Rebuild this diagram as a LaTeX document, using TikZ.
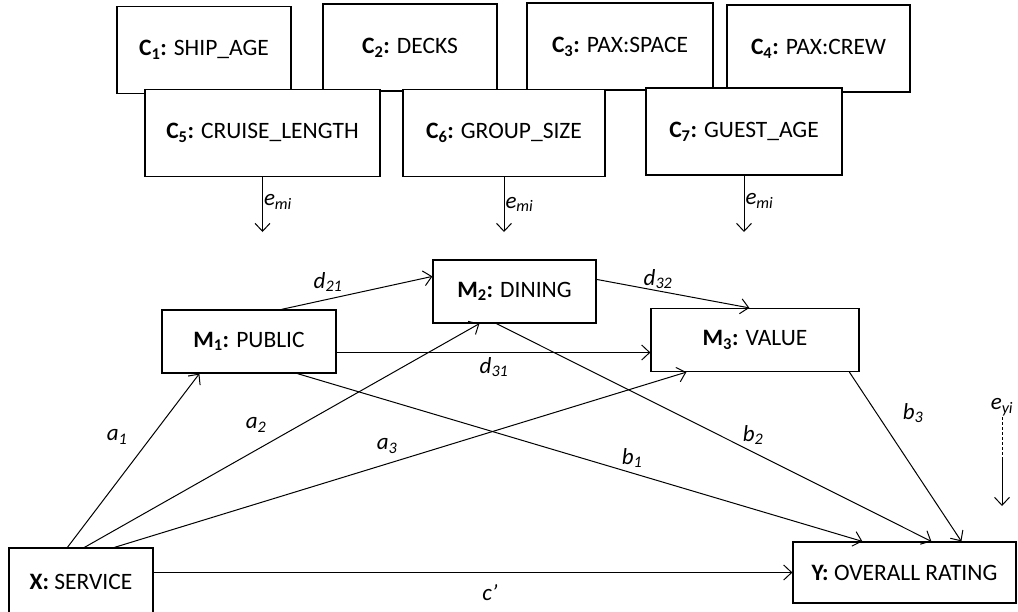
\documentclass[tikz,border=0pt]{standalone}
\usepackage{fontspec}
\setmainfont{Carlito}
\usetikzlibrary{arrows.meta}

\begin{document}
\begin{tikzpicture}[x=1pt, y=-1pt, line width=1pt,
  font=\fontsize{23.5}{27}\selectfont,
  bx/.style={draw, fill=white, inner sep=0pt, line width=1.2pt},
  cv/.style={bx, minimum height=87pt},
  mv/.style={bx, minimum height=63pt},
  arr/.style={-{Straight Barb[length=8pt,width=15pt]}},
  lbl/.style={font=\fontsize{23}{27}\selectfont\itshape, inner sep=1pt},
]
  \useasboundingbox (0,0) rectangle (1018,611);

  % controls, back row first so the front row covers it
  \node[cv, minimum width=174pt] (c1) at (204,50)    {\textbf{C\textsubscript{1}:} SHIP\_AGE};
  \node[cv, minimum width=174pt] (c2) at (410,47.5)  {\textbf{C\textsubscript{2}:} DECKS};
  \node[cv, minimum width=186pt] (c3) at (620,46.5)  {\textbf{C\textsubscript{3}:} PAX:SPACE};
  \node[cv, minimum width=183pt] (c4) at (818.5,48.5){\textbf{C\textsubscript{4}:} PAX:CREW};
  \node[cv, minimum width=235pt] (c5) at (262.5,133) {\textbf{C\textsubscript{5}:} CRUISE\_LENGTH};
  \node[cv, minimum width=202pt] (c6) at (504,133)   {\textbf{C\textsubscript{6}:} GROUP\_SIZE};
  \node[cv, minimum width=196pt] (c7) at (744,131.5) {\textbf{C\textsubscript{7}:} GUEST\_AGE};

  \coordinate (e5) at (262.5,232);
  \coordinate (e6) at (504,232);
  \coordinate (e7) at (744,232);
  \draw[arr] (c5.south) -- node[lbl, right, pos=0.45] {e\textsubscript{mi}} (e5);
  \draw[arr] (c6.south) -- node[lbl, right, pos=0.5] {e\textsubscript{mi}} (e6);
  \draw[arr] (c7.south) -- node[lbl, right, pos=0.45] {e\textsubscript{mi}} (e7);

  % mediators
  \node[mv, minimum width=174pt] (m1) at (249,341.5) {\textbf{M\textsubscript{1}:} PUBLIC};
  \node[mv, minimum width=163pt] (m2) at (514.5,291.5) {\textbf{M\textsubscript{2}:} DINING};
  \node[mv, minimum width=208pt] (m3) at (755,340)   {\textbf{M\textsubscript{3}:} VALUE};

  \node[bx, minimum width=144pt, minimum height=68pt] (x) at (81,582)  {\textbf{X:} SERVICE};
  \node[bx, minimum width=223pt, minimum height=61pt] (y) at (904.5,572.5) {\textbf{Y:} OVERALL RATING};

  % paths
  \draw[arr] ([xshift=59pt]x.north west)  -- ([xshift=38pt]m1.south west);
  \draw[arr] ([xshift=76pt]x.north west)  -- ([xshift=47pt]m2.south west);
  \draw[arr] ([xshift=106pt]x.north west) -- ([xshift=36pt]m3.south west);
  \draw[arr] ([xshift=120pt]m1.north west) -- ([yshift=-17pt]m2.north west);
  \coordinate (d31) at ([yshift=-11pt]m1.east);
  \draw[arr] (d31) -- (d31 -| m3.west);
  \draw[arr] ([yshift=-20pt]m2.north east) -- ([xshift=99pt]m3.north west);
  \draw[arr] ([xshift=136pt]m1.south west) -- ([xshift=70pt]y.north west);
  \draw[arr] ([xshift=64pt]m2.south west)  -- ([xshift=139pt]y.north west);
  \draw[arr] ([xshift=199pt]m3.south west) -- ([xshift=169pt]y.north west);
  \draw[arr] (y.west -| x.east) -- (y.west);

  \node[lbl] (la1) at (117,437) {a\textsubscript{1}};
  \node[lbl] (la2) at (256,425) {a\textsubscript{2}};
  \node[lbl] (la3) at (387,446) {a\textsubscript{3}};
  \node[lbl] (ld21) at (328,282) {d\textsubscript{21}};
  \node[lbl] (ld31) at (494,367) {d\textsubscript{31}};
  \node[lbl] (ld32) at (658,279) {d\textsubscript{32}};
  \node[lbl] (lb1) at (632,458) {b\textsubscript{1}};
  \node[lbl] (lb2) at (753,435) {b\textsubscript{2}};
  \node[lbl] (lb3) at (913,413) {b\textsubscript{3}};
  \node[lbl] (lc) at (490,593) {c’};

  % residual on Y
  \node[lbl] (eyi) at (1002,407) {e\textsubscript{yi}};
  \coordinate (ey1) at (1002,458);
  \coordinate (ey2) at (1002,506);
  \draw[dash pattern=on 3pt off 2pt] (eyi.south) -- (ey1);
  \draw[arr] (ey1) -- (ey2);
\end{tikzpicture}
\end{document}
